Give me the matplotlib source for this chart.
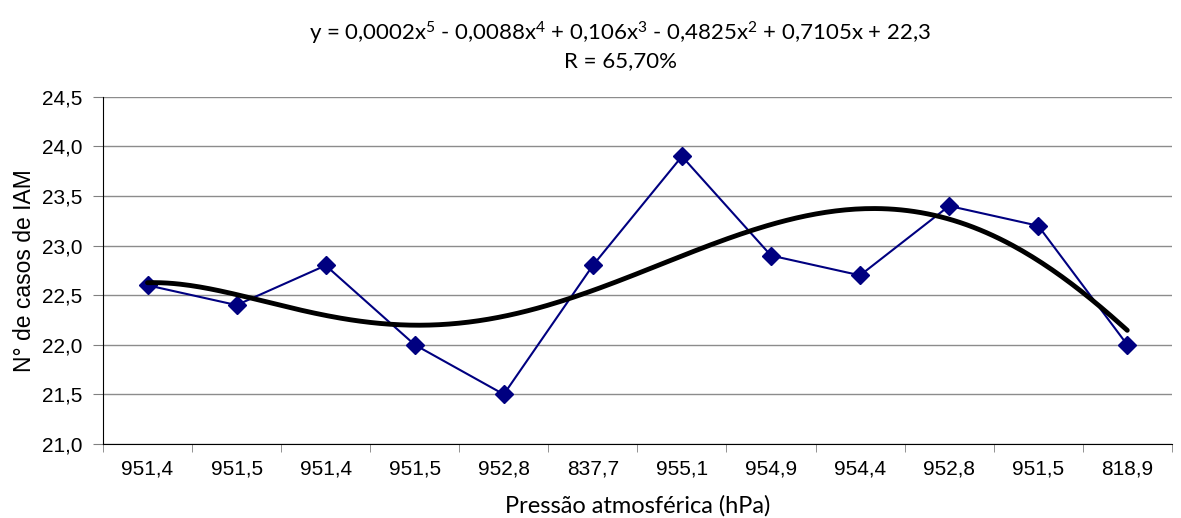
import numpy as np
import matplotlib
matplotlib.use("Agg")
import matplotlib.pyplot as plt

plt.rcParams["mathtext.fontset"] = "custom"
plt.rcParams["mathtext.rm"] = "Lato"
plt.rcParams["mathtext.it"] = "Lato"
plt.rcParams["mathtext.bf"] = "Lato"
plt.rcParams["mathtext.default"] = "rm"

pressao = ["951,4", "951,5", "951,4", "951,5", "952,8", "837,7",
           "955,1", "954,9", "954,4", "952,8", "951,5", "818,9"]
casos = [22.6, 22.4, 22.8, 22.0, 21.5, 22.8, 23.9, 22.9, 22.7, 23.4, 23.2, 22.0]
yticks = [21.0, 21.5, 22.0, 22.5, 23.0, 23.5, 24.0, 24.5]

titulo = ("y = 0,0002x$^{5}$ - 0,0088x$^{4}$ + 0,106x$^{3}$ - 0,4825x$^{2}$ + 0,7105x + 22,3\n"
          "R = 65,70%")

x = np.arange(1, len(casos) + 1)
coef = np.polyfit(x, casos, 5)
xs = np.linspace(1, len(casos), 300)
ys = np.polyval(coef, xs)

fig = plt.figure(figsize=(11.81, 5.18), dpi=100)
ax = fig.add_axes([0.0872, 0.143, 0.905, 0.67])

ax.plot(x, casos, color="#000080", lw=1.5, marker="D", markersize=9, zorder=3)
ax.plot(xs, ys, color="black", lw=3.5, zorder=4, solid_capstyle="round")

ax.set_xlim(0.5, len(casos) + 0.5)
ax.set_ylim(21.0, 24.5)
ax.set_yticks(yticks)
ax.set_yticklabels([f"{v:.1f}".replace(".", ",") for v in yticks],
                   fontsize=15, family="Liberation Sans")
ax.set_xticks(x)
ax.set_xticklabels(pressao, fontsize=15, family="Liberation Sans")
ax.set_xticks(np.arange(0.5, len(casos) + 1), minor=True)
ax.tick_params(axis="x", which="major", length=0, pad=11)
ax.tick_params(axis="x", which="minor", length=6, direction="out", color="#808080")
ax.tick_params(axis="y", length=7, direction="out", color="#808080", pad=8)

ax.grid(axis="y", color="#8c8c8c", lw=1)
ax.set_axisbelow(True)
for s in ["top", "right"]:
    ax.spines[s].set_visible(False)
ax.spines["left"].set_color("black")
ax.spines["bottom"].set_color("black")

ax.set_ylabel("N° de casos de IAM", fontsize=16.5, family="Liberation Sans", labelpad=4)
ax.set_xlabel("Pressão atmosférica (hPa)", fontsize=17, family="Lato", labelpad=12)
fig.text(0.525, 0.912, titulo, ha="center", va="center", fontsize=16,
         family="Lato", linespacing=1.3)

fig.savefig("out.png", dpi=100)
